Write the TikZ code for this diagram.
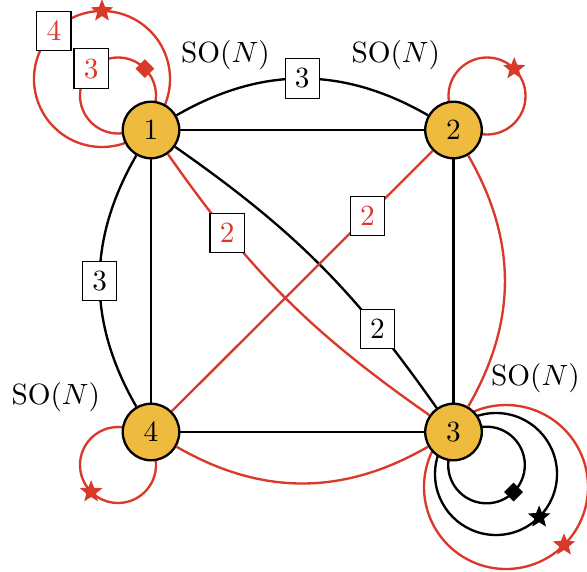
\documentclass[tikz,border=0pt]{standalone}
\usepackage{amssymb,amsfonts,amsmath}
\usepackage{tikz}
\usetikzlibrary{positioning,shapes,backgrounds}

\definecolor{vred}{RGB}{218,57,41}
\definecolor{vyellow}{RGB}{238,187,62}

\tikzset{
	vertex/.style={circle,draw=black,thick,fill=vyellow,minimum size=19.3pt,inner sep=0pt},
	edge/.style={thick,black},
	redge/.style={thick,vred},
	num/.style={draw=black,thin,fill=white,text=black},
	rnum/.style={num,text=vred},
	starmark/.style={star,star points=5,star point ratio=2.3,fill,draw=none,inner sep=0pt,minimum size=8pt},
	diamark/.style={diamond,fill,draw=none,inner sep=0pt,minimum size=6.8pt}
}

\begin{document}
\begin{tikzpicture}[x=0.3414pt,y=0.3414pt]
		\useasboundingbox (0,0) rectangle (587,-571);
		\node[vertex] (v1) at (151,-130) {1};
		\node[vertex] (v2) at (453.5,-130) {2};
		\node[vertex] (v3) at (453.5,-432) {3};
		\node[vertex] (v4) at (151,-432) {4};
		
		\node (g1) at ([shift={(74.5,75)}]v1) {$\mathrm{SO}(N)$};
		\node (g2) at ([shift={(-57.7,75)}]v2) {$\mathrm{SO}(N)$};
		\node (g3) at ([shift={(82,54)}]v3) {$\mathrm{SO}(N)$};
		\node (g4) at ([shift={(-95.2,35.3)}]v4) {$\mathrm{SO}(N)$};
		
		\draw[edge] (v1) -- (v2);
		\draw[edge] (v1) -- (v4);
		\draw[edge] (v2) -- (v3);
		\draw[edge] (v4) -- (v3);
		\draw[edge] (v1) to[bend left=30] node[num] {3} (v2);
		\draw[edge] (v1) to[bend right=30] node[num] {3} (v4);
		\draw[redge] (v2) to[bend left=30] (v3);
		\draw[redge] (v4) to[bend right=30] (v3);
		\draw[edge] (v1) to[bend left=10] node[num,pos=0.75] {2} (v3);
		\draw[redge] (v1) to[bend right=10] node[rnum,pos=0.25] {2} (v3);
		\draw[redge] (v2) -- node[rnum,pos=0.25] {2} (v4);
		
		% loops
		\begin{scope}[on background layer]
		\draw[redge] ([shift={(-33,34.5)}]v1.center) circle[radius=38]
			+(45:38) node[diamark] {} +(135:38) node[rnum] {3};
		\draw[redge] ([shift={(-49,51)}]v1.center) circle[radius=68]
			+(90:68) node[starmark] {} +(135:68) node[rnum] {4};
		\draw[redge] ([shift={(33.5,34)}]v2.center) circle[radius=38.5]
			+(45:38.5) node[starmark] {};
		\draw[redge] ([shift={(-33,-33)}]v4.center) circle[radius=38]
			+(225:38) node[starmark] {};
		\draw[edge] ([shift={(33,-33)}]v3.center) circle[radius=38.3]
			+(-45:38.3) node[diamark] {};
		\draw[edge] ([shift={(42.5,-42)}]v3.center) circle[radius=61]
			+(-45:61) node[starmark] {};
		\draw[redge] ([shift={(52.5,-55)}]v3.center) circle[radius=82]
			+(-45:82) node[starmark] {};
		\end{scope}
\end{tikzpicture}
\end{document}
